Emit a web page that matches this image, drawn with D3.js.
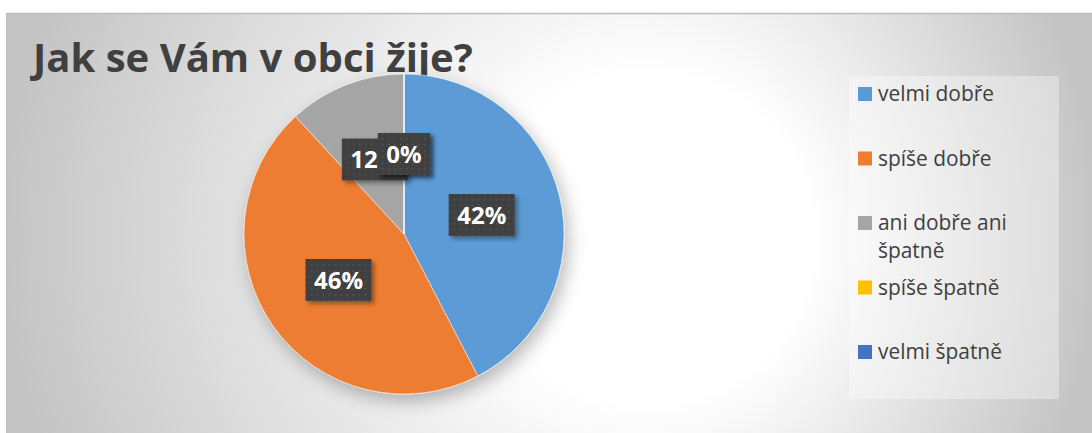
<!DOCTYPE html>
<html>
<head>
<meta charset="utf-8">
<script src="https://cdn.jsdelivr.net/npm/d3@7"></script>
<style>
  html, body { margin: 0; padding: 0; background: #fff; }
  svg { display: block; }
</style>
</head>
<body>
<svg id="chart" width="1092" height="433"></svg>
<script>
(function() {
    'use strict';
    var W = 1092, H = 433;

    // chart data (answer counts)
    var title = 'Jak se Vám v obci žije?';
    var categories = ['velmi dobře', 'spíše dobře', 'ani dobře ani špatně', 'spíše špatně', 'velmi špatně'];
    var counts = [25, 27, 7, 0, 0];
    var colors = ['#5B9BD5', '#ED7D31', '#A5A5A5', '#FFC000', '#4472C4'];

    var svg = d3.select('#chart'),
        defs = svg.append('defs'),
        area = {x: 6, y: 13, w: W - 6, h: H - 13},
        pie = {cx: 404, cy: 234, r: 160},
        legend = {x: 849, y: 76, w: 210, h: 323, top: 94, step: 64.5},
        font = '"Open Sans", "Liberation Sans", sans-serif',
        textColor = '#404040';

    // background gradient: bright spot right of the pie, grey towards the edges
    var grad = defs.append('radialGradient').attr('id', 'bg')
        .attr('gradientUnits', 'userSpaceOnUse')
        .attr('cx', 550).attr('cy', 235).attr('r', 550)
        .attr('fx', 690).attr('fy', 240);
    grad.append('stop').attr('offset', 0).attr('stop-color', '#ffffff');
    grad.append('stop').attr('offset', 0.3).attr('stop-color', '#ffffff');
    grad.append('stop').attr('offset', 1).attr('stop-color', '#c4c4c4');

    var sh = defs.append('filter').attr('id', 'pieShadow')
        .attr('x', '-20%').attr('y', '-20%').attr('width', '150%').attr('height', '150%');
    sh.append('feDropShadow').attr('dx', 4).attr('dy', 7).attr('stdDeviation', 9)
        .attr('flood-color', '#000').attr('flood-opacity', 0.28);

    var lsh = defs.append('filter').attr('id', 'lblShadow')
        .attr('x', '-20%').attr('y', '-20%').attr('width', '150%').attr('height', '150%');
    lsh.append('feDropShadow').attr('dx', 3).attr('dy', 3).attr('stdDeviation', 2)
        .attr('flood-color', '#000').attr('flood-opacity', 0.35);

    // dotted dark fill of the data labels
    var pat = defs.append('pattern').attr('id', 'dots').attr('patternUnits', 'userSpaceOnUse')
        .attr('width', 6).attr('height', 6);
    pat.append('rect').attr('width', 6).attr('height', 6).attr('fill', '#404040');
    pat.append('rect').attr('x', 2).attr('y', 2).attr('width', 1.5).attr('height', 1.5).attr('fill', '#575757');

    svg.append('rect')
        .attr('x', area.x).attr('y', area.y).attr('width', area.w).attr('height', area.h)
        .attr('fill', 'url(#bg)');
    svg.append('line').attr('x1', area.x).attr('x2', W).attr('y1', area.y + 0.5).attr('y2', area.y + 0.5)
        .attr('stroke', '#bdbdbd').attr('stroke-width', 1.5);
    svg.append('line').attr('x1', area.x + 0.5).attr('x2', area.x + 0.5).attr('y1', area.y).attr('y2', H)
        .attr('stroke', '#bdbdbd').attr('stroke-width', 1);

    // title, sized to the reference width
    var t = svg.append('text')
        .attr('x', 33).attr('y', 72)
        .attr('font-family', font).attr('font-weight', 700)
        .attr('font-size', 40).attr('fill', textColor)
        .text(title);
    t.attr('font-size', 40 * 440 / t.node().getComputedTextLength());

    // pie
    var total = d3.sum(counts);
    var data = categories.map(function(c, i) {
        return {name: c, value: counts[i], color: colors[i]};
    });
    var arcs = d3.pie().sort(null).value(function(d) { return d.value; })(data);
    var arc = d3.arc().innerRadius(0).outerRadius(pie.r);

    var g = svg.append('g').attr('transform', 'translate(' + pie.cx + ',' + pie.cy + ')');
    g.append('g').attr('filter', 'url(#pieShadow)')
        .selectAll('path').data(arcs).enter().append('path')
        .attr('d', arc)
        .attr('fill', function(d) { return d.data.color; })
        .attr('stroke', '#ffffff').attr('stroke-width', 0.5);

    // data labels
    var pct = d3.format('.0%');
    var labels = g.selectAll('.lbl').data(arcs).enter().append('g')
        .attr('class', 'lbl')
        .attr('transform', function(d) {
            var c = arc.centroid(d);
            return 'translate(' + c[0] + ',' + c[1] + ')';
        });
    labels.each(function(d) {
        var sel = d3.select(this),
            box = sel.append('rect').attr('fill', 'url(#dots)').attr('filter', 'url(#lblShadow)'),
            txt = sel.append('text')
                .attr('text-anchor', 'middle').attr('dy', '0.36em')
                .attr('font-family', font).attr('font-weight', 700)
                .attr('font-size', 24).attr('fill', '#ffffff')
                .text(pct(d.data.value / total));
        var w = txt.node().getComputedTextLength() + 17;
        box.attr('x', -w / 2).attr('y', -21).attr('width', w).attr('height', 42);
    });

    // legend
    svg.append('rect')
        .attr('x', legend.x).attr('y', legend.y).attr('width', legend.w).attr('height', legend.h)
        .attr('fill', '#ffffff').attr('fill-opacity', 0.35);

    // legend font sized so that the first entry spans the reference width
    var probe = svg.append('text').attr('font-family', font).attr('font-size', 20).text(categories[0]);
    var legSize = 20 * 116 / probe.node().getComputedTextLength();
    probe.remove();

    var items = svg.selectAll('.leg').data(data).enter().append('g')
        .attr('class', 'leg')
        .attr('transform', function(d, i) {
            return 'translate(' + (legend.x + 9) + ',' + (legend.top + i * legend.step) + ')';
        });
    items.append('rect')
        .attr('x', 0).attr('y', -7).attr('width', 14).attr('height', 14)
        .attr('fill', function(d) { return d.color; });
    items.each(function(d) {
        var sel = d3.select(this),
            txt = sel.append('text')
                .attr('x', 20).attr('y', 0).attr('dy', '0.35em')
                .attr('font-family', font).attr('font-size', legSize)
                .attr('fill', textColor),
            words = d.name.split(' '), line = [],
            ts = txt.append('tspan').attr('x', 20);
        words.forEach(function(w) {
            line.push(w);
            ts.text(line.join(' '));
            if (ts.node().getComputedTextLength() > 170 && line.length > 1) {
                line.pop();
                ts.text(line.join(' '));
                line = [w];
                ts = txt.append('tspan').attr('x', 20).attr('dy', 28).text(w);
            }
        });
    });
}());
</script>
</body>
</html>
